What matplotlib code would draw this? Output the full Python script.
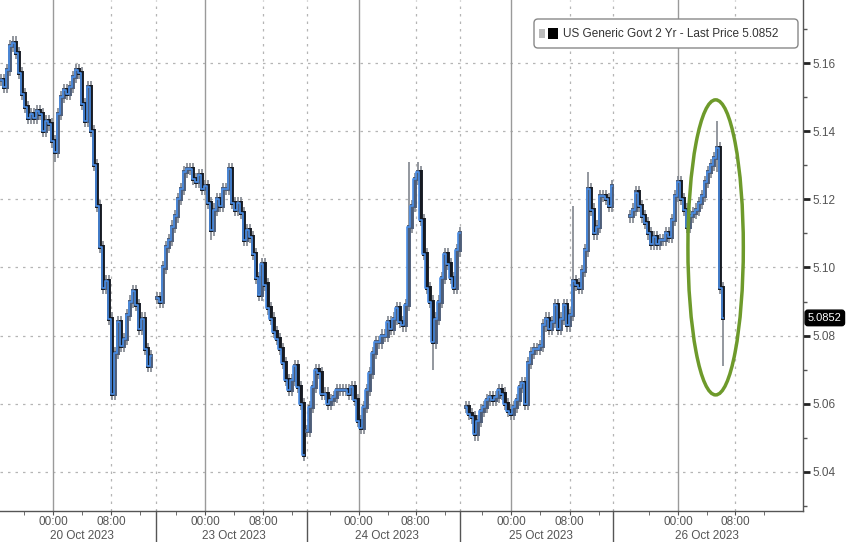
import matplotlib
matplotlib.use("Agg")
import matplotlib.pyplot as plt
from matplotlib.patches import Ellipse, Rectangle, FancyBboxPatch
from matplotlib.transforms import blended_transform_factory
import numpy as np

plt.rcParams['font.family'] = ['Liberation Sans', 'DejaVu Sans']

# closing prices per session (one bar every ~20 min)
oct20 = [5.155, 5.153, 5.158, 5.165, 5.166, 5.163, 5.157, 5.151, 5.147, 5.144,
         5.145, 5.144, 5.146, 5.145, 5.140, 5.143, 5.142, 5.137, 5.134, 5.145,
         5.150, 5.152, 5.151, 5.153, 5.156, 5.158, 5.157, 5.148, 5.143, 5.153,
         5.140, 5.130, 5.118, 5.106, 5.094, 5.096, 5.085, 5.063, 5.075, 5.084,
         5.077, 5.079, 5.086, 5.090, 5.093, 5.089, 5.082, 5.085, 5.076, 5.071,
         5.074]
oct23 = [5.091, 5.090, 5.100, 5.106, 5.108, 5.112, 5.115, 5.120, 5.123, 5.128,
         5.129, 5.129, 5.126, 5.125, 5.127, 5.123, 5.124, 5.119, 5.111, 5.117,
         5.120, 5.118, 5.123, 5.123, 5.129, 5.119, 5.117, 5.119, 5.116, 5.108,
         5.111, 5.109, 5.104, 5.097, 5.092, 5.101, 5.095, 5.088, 5.085, 5.081,
         5.079, 5.076, 5.072, 5.067, 5.064, 5.067, 5.071, 5.065, 5.060, 5.045]
oct24 = [5.052, 5.059, 5.065, 5.070, 5.069, 5.063, 5.063, 5.060, 5.061, 5.062,
         5.064, 5.064, 5.064, 5.064, 5.063, 5.065, 5.061, 5.055, 5.053, 5.059,
         5.064, 5.069, 5.075, 5.078, 5.078, 5.080, 5.080, 5.084, 5.082, 5.085,
         5.088, 5.084, 5.083, 5.089, 5.112, 5.118, 5.126, 5.128, 5.114, 5.104,
         5.094, 5.090, 5.078, 5.085, 5.090, 5.097, 5.104, 5.101, 5.097, 5.094,
         5.105, 5.110]
oct25 = [5.059, 5.057, 5.056, 5.051, 5.055, 5.058, 5.059, 5.061, 5.062, 5.061,
         5.062, 5.064, 5.063, 5.060, 5.058, 5.057, 5.059, 5.061, 5.065, 5.066,
         5.060, 5.072, 5.075, 5.076, 5.076, 5.077, 5.083, 5.085, 5.082, 5.084,
         5.089, 5.082, 5.085, 5.089, 5.083, 5.086, 5.096, 5.095, 5.094, 5.099,
         5.105, 5.123, 5.117, 5.110, 5.112, 5.121, 5.121, 5.120, 5.118, 5.124]
oct26 = [5.115, 5.117, 5.122, 5.118, 5.115, 5.113, 5.110, 5.107, 5.109, 5.107,
         5.108, 5.108, 5.110, 5.109, 5.114, 5.121, 5.125, 5.120, 5.117, 5.112,
         5.115, 5.116, 5.117, 5.119, 5.121, 5.125, 5.128, 5.130, 5.132, 5.135,
         5.094, 5.0852]

sessions = [oct20, oct23, oct24, oct25, oct26]
dates = ["20 Oct 2023", "23 Oct 2023", "24 Oct 2023", "25 Oct 2023", "26 Oct 2023"]
# idle bars before each session starts
lead_gap = [0, 1, 0, 1, 5]

# wick extremes that stick out of the open/close range: (session, bar, high, low)
wicks = [(0, 18, 5.137, 5.131), (1, 18, 5.119, 5.108), (2, 34, 5.131, 5.098),
         (2, 37, 5.131, 5.126), (2, 42, 5.090, 5.070), (3, 36, 5.118, 5.086),
         (3, 41, 5.128, 5.105), (4, 29, 5.143, 5.128), (4, 31, 5.094, 5.071)]

last_price = 5.0852

# axis layout (bar slots)
midnight = [17.3, 68, 119.3, 170.3, 226]
eight_am = [36.7, 87.3, 138.3, 189.7, 245]
day_breaks = [51.7, 102, 153, 204.3]

fig = plt.figure(figsize=(8.48, 5.42), dpi=100)
ax = fig.add_axes([0, 0.057, 0.947, 0.943])

blue = "#4a8ee6"
pos = 0
for s, closes in enumerate(sessions):
    pos += lead_gap[s]
    c = np.array(closes)
    x = np.arange(len(c)) + pos
    o = np.concatenate([[c[0]], c[:-1]])
    hi = np.maximum(o, c) + 0.0018
    lo = np.minimum(o, c) - 0.0018
    for ss, b, h, l in wicks:
        if ss == s:
            hi[b] = max(hi[b], h)
            lo[b] = min(lo[b], l)
    ax.vlines(x, lo, hi, color="#80858e", lw=1.2, zorder=2)
    up = c >= o
    ax.vlines(x[up], np.minimum(o, c)[up] - 0.0006, np.maximum(o, c)[up] + 0.0006,
              color="#4d5d78", lw=2.8, zorder=2.5)
    ax.vlines(x[~up], np.minimum(o, c)[~up] - 0.0006, np.maximum(o, c)[~up] + 0.0006,
              color="#161a22", lw=2.8, zorder=2.5)
    ax.plot(x, c, color=blue, lw=1.2, drawstyle="steps-mid", zorder=3)
    pos += len(c)

ax.set_xlim(-0.5, 267.7)
ax.set_ylim(5.0285, 5.1785)

# grid
dotted = (0, (2, 4))
for v in np.arange(5.04, 5.17, 0.02):
    ax.axhline(v, color="#b5b5b5", lw=0.9, ls=dotted, zorder=1)
for xm in midnight:
    ax.axvline(xm, color="#9a9a9a", lw=1.0, zorder=1)
for xe in eight_am + day_breaks:
    ax.axvline(xe, color="#b5b5b5", lw=0.9, ls=dotted, zorder=1)

# spines / y axis on the right
for sp in ["top", "left"]:
    ax.spines[sp].set_visible(False)
for sp in ["right", "bottom"]:
    ax.spines[sp].set_color("#555555")
    ax.spines[sp].set_linewidth(1.0)
ax.yaxis.tick_right()
ax.set_yticks(np.arange(5.04, 5.17, 0.02))
ax.set_yticklabels(["%.2f" % v for v in np.arange(5.04, 5.17, 0.02)])
ax.set_yticks(np.arange(5.03, 5.18, 0.02), minor=True)
ax.tick_params(axis="y", which="major", length=5, width=2, color="#222222",
               labelsize=8.5, labelcolor="#555555", pad=2)
ax.tick_params(axis="y", which="minor", length=3, width=1, color="#555555")

# x axis ticks and two-line labels
ax.set_xticks(midnight + eight_am)
ax.set_xticklabels([])
minor_x = [m - 9.7 for m in midnight] + [m + 9.7 for m in midnight] + [e + 9.7 for e in eight_am]
ax.set_xticks(minor_x, minor=True)
ax.tick_params(axis="x", which="both", direction="out", length=3, color="#555555")
tr = blended_transform_factory(ax.transData, ax.transAxes)
for m, e, d in zip(midnight, eight_am, dates):
    ax.text(m, -0.022, "00:00", transform=tr, ha="center", va="center",
            fontsize=8.5, color="#555555")
    ax.text(e, -0.022, "08:00", transform=tr, ha="center", va="center",
            fontsize=8.5, color="#555555")
    ax.text((m + e) / 2, -0.048, d, transform=tr, ha="center", va="center",
            fontsize=8.5, color="#555555")
for b in day_breaks:
    ax.plot([b, b], [0, -0.07], transform=tr, color="#555555", lw=1.0, clip_on=False)

# legend box (drawn in pixel coordinates on an overlay)
leg = fig.add_axes([0, 0, 1, 1], facecolor="none")
leg.set_xlim(0, 848)
leg.set_ylim(542, 0)
leg.axis("off")
leg.add_patch(FancyBboxPatch((536, 21), 260, 25, boxstyle="round,pad=2,rounding_size=4",
                             fc="white", ec="#888888", lw=1.0, zorder=1))
leg.add_patch(Rectangle((539, 29), 6, 9, fc="#bbbbbb", ec="none", zorder=2))
leg.add_patch(Rectangle((548, 28), 10, 11, fc="black", ec="none", zorder=2))
leg.text(563, 34, "US Generic Govt 2 Yr - Last Price %.4f" % last_price,
         fontsize=8.5, color="#333333", va="center", ha="left", zorder=3)
leg.set_zorder(5)

# last price tag
ax.text(1.006, (last_price - 5.0285) / (5.1785 - 5.0285), "%.4f" % last_price,
        transform=ax.transAxes, fontsize=8, color="white", va="center", ha="left",
        bbox=dict(boxstyle="round,pad=0.25", fc="black", ec="black"), clip_on=False,
        zorder=7)

# green highlight around the last drop
ax.add_patch(Ellipse((238.5, 5.1059), 18.5, 0.0866, fill=False, ec="#6e9a2b",
                     lw=2.5, zorder=4))

fig.savefig("out.png", dpi=100)
